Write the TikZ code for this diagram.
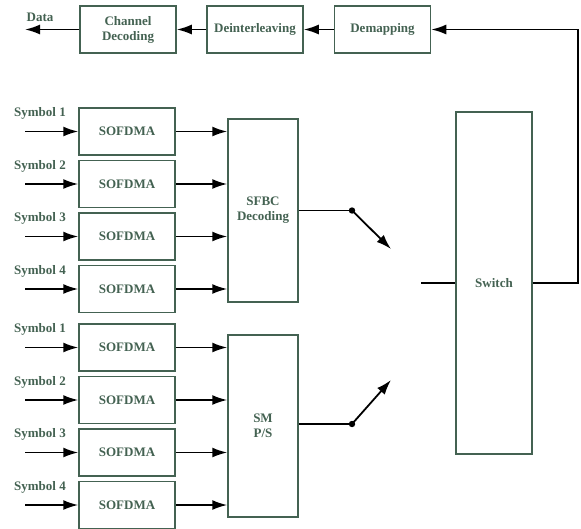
\documentclass[tikz,border=0pt]{standalone}
\usepackage{fontspec}
\setmainfont{Liberation Serif}
\usetikzlibrary{arrows.meta}
\definecolor{boxgreen}{RGB}{68,98,82}
\tikzset{
  blk/.style={draw=boxgreen, line width=1.5pt, text=boxgreen, font=\bfseries\fontsize{13}{15}\selectfont,
    minimum width=96pt, minimum height=47pt, align=center, inner sep=0pt},
  arr/.style={-{Latex[length=15pt,width=10pt]}, line width=1.8pt},
  lbl/.style={text=boxgreen, font=\bfseries\fontsize{13}{15}\selectfont, inner sep=0pt}
}

\begin{document}
\begin{tikzpicture}[x=1pt,y=-1pt]
  \useasboundingbox (0,0) rectangle (581,528);

  % receiver chain on top
  \node[blk] (chdec) at (128,29.5) {Channel\\Decoding};
  \node[blk] (deint) at (255,29.5) {Deinterleaving};
  \node[blk] (demap) at (382.5,29.5) {Demapping};
  \coordinate (dataout) at (25,29.5);
  \node[lbl] (datalbl) at (40,17) {Data};
  \draw[arr] (demap) -- (deint);
  \draw[arr] (deint) -- (chdec);
  \draw[arr] (chdec) -- (dataout);

  % combining blocks and switch
  \node[blk, minimum width=70pt, minimum height=183pt] (sfbc) at (263,210.5) {SFBC\\Decoding};
  \node[blk, minimum width=70pt, minimum height=182pt] (smps) at (263,426) {SM\\P/S};
  \node[blk, minimum width=76pt, minimum height=342pt] (switch) at (494,283) {Switch};

  \foreach \i/\y in {1/131.5,2/184,3/236.5,4/289}{
    \coordinate (ina\i) at (25,\y);
    \node[blk] (sofa\i) at (127,\y) {SOFDMA};
    \node[lbl] (syma\i) at (40,\y-18) {Symbol \i};
    \draw[arr] (ina\i) -- (sofa\i.west);
    \draw[arr] (sofa\i.east) -- (sfbc.west |- sofa\i.east);
  }
  \foreach \i/\y in {1/347.5,2/400,3/452.5,4/505}{
    \coordinate (inb\i) at (25,\y);
    \node[blk] (sofb\i) at (127,\y) {SOFDMA};
    \node[lbl] (symb\i) at (40,\y-18) {Symbol \i};
    \draw[arr] (inb\i) -- (sofb\i.west);
    \draw[arr] (sofb\i.east) -- (smps.west |- sofb\i.east);
  }

  % switch contacts
  \coordinate (dota) at (352,210.5);
  \coordinate (tipa) at (391,249);
  \coordinate (dotb) at (352,424);
  \coordinate (tipb) at (391,380);
  \coordinate (swin) at (421,283);
  \draw[line width=1.8pt] (sfbc.east) -- (dota);
  \draw[line width=1.8pt] (smps.east |- dotb) -- (dotb);
  \fill (dota) circle (3.2);
  \fill (dotb) circle (3.2);
  \draw[arr] (dota) -- (tipa);
  \draw[arr] (dotb) -- (tipb);
  \draw[line width=1.8pt] (swin) -- (switch.west);

  % feedback to demapping
  \coordinate (corner) at (578,29.5);
  \draw[arr] (switch.east) -| (corner) -- (demap.east);
\end{tikzpicture}
\end{document}
